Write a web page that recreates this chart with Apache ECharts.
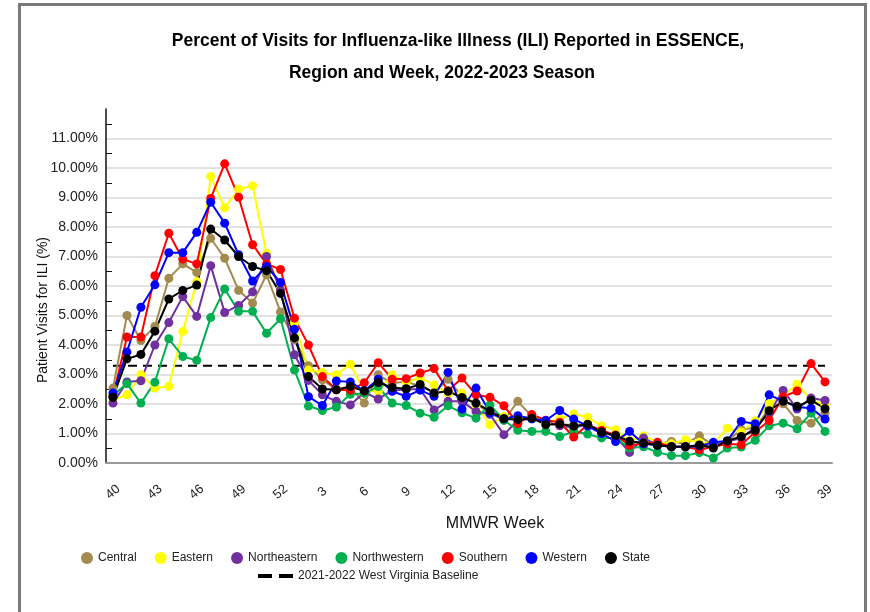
<!DOCTYPE html>
<html>
<head>
<meta charset="utf-8">
<script src="https://cdn.jsdelivr.net/npm/echarts@6/dist/echarts.min.js"></script>
<style>
  html, body { margin: 0; padding: 0; background: #fff; }
  #frame { position: absolute; left: 18px; top: 3px; width: 849px; height: 640px; border: 3px solid #7a7a7a; box-sizing: border-box; }
  #chart { position: absolute; left: 0; top: 0; width: 870px; height: 612px; }
</style>
</head>
<body>
<div id="frame"></div>
<div id="chart"></div>
<script>
// MMWR weeks of the 2022-2023 season
const weeks = ['40','41','42','43','44','45','46','47','48','49','50','51','52',
  '1','2','3','4','5','6','7','8','9','10','11','12','13','14','15','16','17','18','19','20',
  '21','22','23','24','25','26','27','28','29','30','31','32','33','34','35','36','37','38','39'];

// percent of visits for ILI, per region
const central = [2.54, 5.00, 4.15, 4.63, 6.26, 6.75, 6.46, 7.62, 6.94, 5.85, 5.42, 6.38, 5.12,
  4.18, 3.30, 2.82, 2.50, 2.55, 2.03, 2.99, 2.70, 2.76, 2.60, 2.40, 2.84, 2.25, 2.00, 1.70, 1.45, 2.09, 1.58, 1.35, 1.30,
  1.30, 1.30, 1.10, 0.90, 0.65, 0.75, 0.65, 0.73, 0.65, 0.92, 0.60, 0.75, 1.13, 1.20, 1.85, 2.01, 1.44, 1.35, 1.69];
const eastern = [2.14, 2.31, 2.99, 2.54, 2.60, 4.46, 6.15, 9.71, 8.65, 9.28, 9.40, 7.10, 5.90,
  4.75, 3.15, 3.07, 2.99, 3.35, 2.45, 2.43, 2.99, 2.75, 2.88, 2.65, 2.35, 2.37, 1.95, 1.30, 1.58, 1.50, 1.60, 1.35, 1.50,
  1.66, 1.55, 1.26, 1.13, 0.75, 0.92, 0.70, 0.65, 0.79, 0.70, 0.65, 1.18, 1.05, 1.43, 2.01, 2.28, 2.67, 2.15, 1.95];
const northeastern = [2.03, 2.75, 2.79, 4.00, 4.76, 5.64, 4.97, 6.69, 5.10, 5.34, 5.80, 7.00, 5.87,
  3.67, 2.80, 2.31, 2.09, 1.97, 2.40, 2.17, 2.45, 2.50, 2.50, 1.80, 2.09, 2.09, 1.75, 1.65, 0.96, 1.45, 1.50, 1.40, 1.26,
  1.20, 1.30, 1.05, 0.90, 0.36, 0.85, 0.60, 0.55, 0.55, 0.55, 0.60, 0.73, 0.85, 1.20, 1.70, 2.46, 1.83, 2.20, 2.12];
const northwestern = [2.30, 2.69, 2.03, 2.74, 4.21, 3.61, 3.48, 4.93, 5.90, 5.14, 5.14, 4.40, 4.89,
  3.15, 1.93, 1.78, 1.90, 2.33, 2.36, 2.59, 2.03, 1.95, 1.69, 1.55, 1.94, 1.70, 1.52, 1.97, 1.45, 1.11, 1.07, 1.07, 0.90,
  1.07, 0.98, 0.85, 0.85, 0.51, 0.55, 0.36, 0.25, 0.25, 0.35, 0.17, 0.51, 0.54, 0.77, 1.26, 1.35, 1.16, 1.69, 1.07];
const southern = [2.26, 4.27, 4.27, 6.35, 7.79, 6.91, 6.75, 8.97, 10.14, 9.01, 7.40, 6.75, 6.56,
  4.91, 4.00, 2.93, 2.48, 2.47, 2.72, 3.40, 2.84, 2.86, 3.05, 3.20, 2.45, 2.88, 2.31, 2.23, 1.94, 1.34, 1.64, 1.45, 1.38,
  0.88, 1.30, 1.10, 0.95, 0.60, 0.65, 0.70, 0.55, 0.55, 0.45, 0.55, 0.65, 0.62, 1.05, 1.44, 2.25, 2.44, 3.37, 2.75];
const western = [2.37, 3.76, 5.28, 6.04, 7.13, 7.13, 7.82, 8.84, 8.13, 7.06, 6.17, 6.66, 6.12,
  4.53, 2.25, 1.95, 2.78, 2.75, 2.45, 2.84, 2.43, 2.26, 2.47, 2.26, 3.07, 1.83, 2.54, 1.70, 1.50, 1.60, 1.50, 1.44, 1.78,
  1.49, 1.25, 1.00, 0.73, 1.07, 0.65, 0.60, 0.55, 0.55, 0.58, 0.70, 0.75, 1.41, 1.33, 2.31, 2.10, 1.90, 1.86, 1.49];
const state = [2.23, 3.53, 3.68, 4.47, 5.56, 5.85, 6.03, 7.93, 7.56, 7.00, 6.66, 6.52, 5.75,
  4.24, 2.93, 2.51, 2.48, 2.59, 2.44, 2.73, 2.56, 2.52, 2.66, 2.37, 2.43, 2.22, 2.03, 1.76, 1.50, 1.47, 1.52, 1.30, 1.32,
  1.25, 1.31, 1.05, 0.93, 0.74, 0.68, 0.60, 0.55, 0.55, 0.61, 0.51, 0.75, 0.90, 1.11, 1.77, 2.10, 1.92, 2.13, 1.84];

// 2021-2022 West Virginia baseline
const baseline = 3.30;

const yTickValues = [0.5, 1.5, 2.5, 3.5, 4.5, 5.5, 6.5, 7.5, 8.5, 9.5, 10.5, 11.5];

const regions = [
  { name: 'Central', data: central, color: '#a38b4f' },
  { name: 'Eastern', data: eastern, color: '#ffff00' },
  { name: 'Northeastern', data: northeastern, color: '#7030a0' },
  { name: 'Northwestern', data: northwestern, color: '#00b050' },
  { name: 'Southern', data: southern, color: '#ff0000' },
  { name: 'Western', data: western, color: '#0000ff' },
  { name: 'State', data: state, color: '#000000' }
];

const chart = echarts.init(document.getElementById('chart'), null, { renderer: 'canvas' });

const series = regions.map(r => ({
  name: r.name,
  type: 'line',
  data: r.data,
  symbol: 'circle',
  symbolSize: 9,
  color: r.color,
  lineStyle: { width: 2, color: r.color },
  itemStyle: { color: r.color },
  animation: false
}));

series.unshift({
  name: '2021-2022 West Virginia Baseline',
  type: 'line',
  data: weeks.map(() => baseline),
  symbol: 'none',
  color: '#000',
  lineStyle: { width: 2, color: '#000', type: [9, 6] },
  animation: false
});

const font = 'Liberation Sans, Arial, sans-serif';
const grid = ['#d9d9d9','#d9d9d9','#d9d9d9','#d9d9d9','#d9d9d9','#d9d9d9','#d9d9d9',
  '#d9d9d9','#d9d9d9','#d9d9d9','#d9d9d9','#d9d9d9','rgba(0,0,0,0)'];

chart.setOption({
  backgroundColor: 'transparent',
  textStyle: { fontFamily: font },
  title: [
    { text: 'Percent of Visits for Influenza-like Illness (ILI) Reported in ESSENCE,', left: 453, top: 27, textAlign: 'center',
      textStyle: { fontSize: 17.5, fontWeight: 'bold', color: '#000', fontFamily: font } },
    { text: 'Region and Week, 2022-2023 Season', left: 437, top: 59, textAlign: 'center',
      textStyle: { fontSize: 17.5, fontWeight: 'bold', color: '#000', fontFamily: font } }
  ],
  legend: [
    { data: regions.map(r => r.name), left: 76, top: 547, icon: 'circle', itemWidth: 12, itemHeight: 12, itemGap: 18,
      textStyle: { fontSize: 12, color: '#222', fontFamily: font } },
    { data: [{ name: '2021-2022 West Virginia Baseline', icon: 'path://M0,0H14V4H0Z M21,0H35V4H21Z' }],
      left: 253, top: 565, itemWidth: 35, itemHeight: 4,
      textStyle: { fontSize: 12, color: '#222', fontFamily: font } }
  ],
  grid: { left: 106, right: 38, top: 109, bottom: 149 },
  xAxis: {
    type: 'category',
    data: weeks,
    boundaryGap: true,
    name: 'MMWR Week',
    nameLocation: 'middle',
    nameGap: 53,
    nameTextStyle: { fontSize: 16, color: '#111', fontFamily: font, padding: [0, 0, 0, 52] },
    axisLine: { lineStyle: { color: '#9a9a9a', width: 2 } },
    axisTick: { alignWithLabel: true, interval: 0, length: 11, lineStyle: { color: '#333', width: 1 } },
    axisLabel: { interval: 2, rotate: 40, align: 'center', verticalAlign: 'middle', margin: 29,
      fontSize: 13, color: '#222', fontFamily: font },
    splitLine: { show: false }
  },
  yAxis: [
    {
      type: 'value',
      min: 0, max: 12, interval: 1,
      name: 'Patient Visits for ILI (%)',
      nameLocation: 'middle',
      nameGap: 56,
      nameMoveOverlap: false,
      nameTextStyle: { fontSize: 14, color: '#111', fontFamily: font, padding: [0, 48, 0, 0] },
      axisLine: { show: true, lineStyle: { color: '#111', width: 1.5 } },
      axisTick: { show: false },
      axisLabel: { formatter: v => v >= 12 ? '' : v.toFixed(2) + '%', fontSize: 14, color: '#222', margin: 8, fontFamily: font },
      splitLine: { show: true, lineStyle: { color: grid, width: 1.5 } }
    },
    {
      type: 'value',
      min: 0, max: 12,
      position: 'left',
      axisLine: { show: false },
      axisLabel: { show: false },
      splitLine: { show: false },
      axisTick: { show: true, inside: true, customValues: yTickValues, length: 6, lineStyle: { color: '#111', width: 1 } }
    }
  ],
  series: series
});
</script>
</body>
</html>
